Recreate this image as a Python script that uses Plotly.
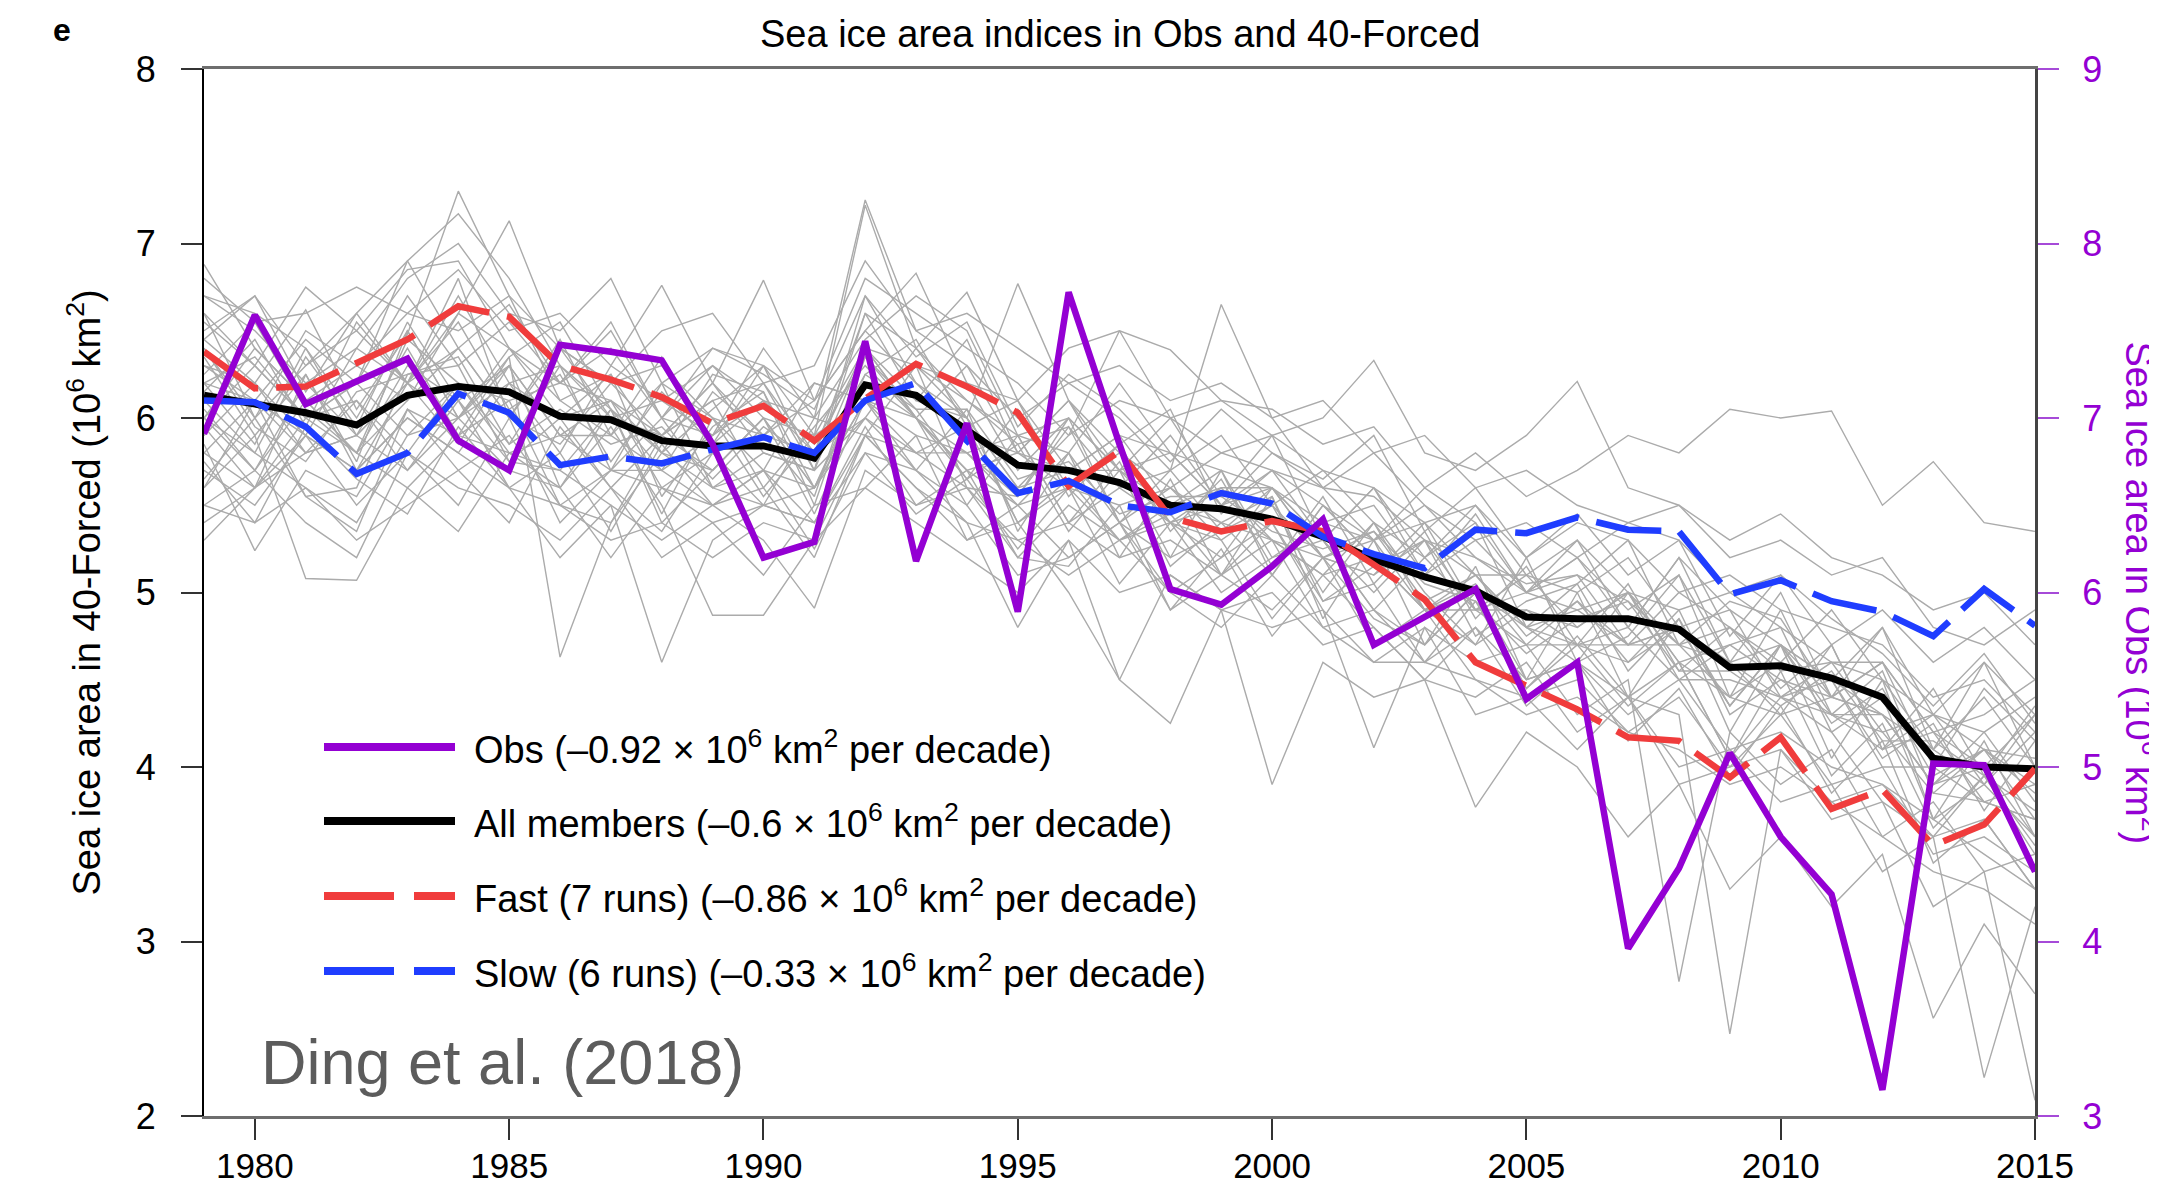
import plotly.graph_objects as go

years = list(range(1979, 2016))

all_members = [6.13, 6.08, 6.03, 5.96, 6.13, 6.18, 6.15, 6.01, 5.99, 5.87, 5.84, 5.84, 5.77, 6.19, 6.13, 5.93,
               5.73, 5.70, 5.63, 5.50, 5.48, 5.42, 5.32, 5.19, 5.09, 5.01, 4.86, 4.85, 4.85, 4.79, 4.57, 4.58,
               4.51, 4.40, 4.05, 4.00, 3.99]
fast = [6.38, 6.17, 6.18, 6.32, 6.45, 6.64, 6.58, 6.30, 6.22, 6.12, 5.97, 6.07, 5.87, 6.11, 6.31, 6.18,
        6.03, 5.61, 5.81, 5.43, 5.35, 5.41, 5.35, 5.16, 4.96, 4.60, 4.46, 4.33, 4.17, 4.15, 3.94, 4.17,
        3.76, 3.87, 3.55, 3.67, 3.99]
slow = [6.10, 6.09, 5.95, 5.68, 5.80, 6.14, 6.03, 5.73, 5.78, 5.74, 5.82, 5.89, 5.80, 6.10, 6.20, 5.87,
        5.57, 5.64, 5.50, 5.46, 5.57, 5.51, 5.32, 5.22, 5.14, 5.36, 5.34, 5.43, 5.36, 5.35, 4.99, 5.07,
        4.95, 4.89, 4.75, 5.02, 4.81]
obs = [6.91, 7.59, 7.08, 7.21, 7.34, 6.87, 6.70, 7.42, 7.38, 7.33, 6.85, 6.20, 6.29, 7.44, 6.18, 6.97,
       5.89, 7.72, 6.85, 6.02, 5.93, 6.15, 6.42, 5.70, 5.86, 6.02, 5.39, 5.60, 3.96, 4.42, 5.08, 4.60,
       4.27, 3.15, 5.02, 5.01, 4.40]

m01 = [6.45, 6.20, 6.62, 6.05, 6.48, 7.30, 6.70, 6.10, 6.25, 5.80, 6.05, 6.30, 5.90, 7.22, 6.40, 6.10, 5.85, 5.95, 5.60, 5.70, 6.65, 6.00, 5.60, 5.55, 5.30, 5.20, 5.05, 5.10, 4.95, 4.70, 4.80, 4.55, 4.60, 4.20, 4.30, 4.10, 4.05]
m02 = [5.85, 5.24, 5.70, 5.55, 6.05, 5.90, 6.35, 4.63, 5.40, 5.90, 6.10, 5.60, 5.95, 6.30, 6.00, 5.50, 5.90, 5.40, 5.75, 5.20, 5.35, 5.50, 5.00, 5.40, 4.90, 5.05, 4.70, 4.95, 4.60, 4.80, 4.35, 4.70, 4.30, 4.55, 3.85, 4.10, 3.70]
m03 = [6.88, 6.40, 6.10, 6.30, 6.60, 6.85, 6.50, 6.60, 6.30, 6.76, 6.20, 6.79, 6.10, 6.50, 6.83, 6.20, 6.10, 6.40, 6.50, 6.39, 6.10, 5.90, 6.00, 6.33, 5.80, 5.70, 5.90, 6.21, 5.60, 5.50, 5.30, 5.45, 5.20, 5.10, 4.90, 5.00, 4.70]
m04 = [6.20, 6.35, 6.00, 5.80, 6.10, 6.40, 6.00, 5.85, 6.20, 5.90, 5.70, 6.00, 5.60, 6.10, 6.30, 6.00, 5.60, 5.90, 6.50, 6.00, 6.10, 6.05, 5.85, 5.95, 5.60, 5.80, 5.55, 5.70, 5.90, 5.80, 6.05, 6.00, 6.04, 5.50, 5.75, 5.40, 5.35]
m05 = [5.60, 5.90, 5.08, 5.07, 5.60, 5.35, 5.80, 5.70, 5.50, 4.60, 5.30, 5.50, 5.40, 5.80, 5.70, 5.40, 4.80, 5.30, 4.50, 4.25, 4.90, 3.90, 4.60, 4.40, 4.50, 3.77, 4.20, 4.00, 3.60, 3.90, 3.30, 3.60, 3.20, 3.50, 2.56, 3.10, 2.70]
m06 = [6.30, 6.10, 6.45, 6.20, 6.90, 7.17, 6.80, 6.30, 6.00, 6.10, 5.90, 6.20, 5.80, 6.60, 6.40, 6.72, 6.10, 5.70, 5.90, 5.80, 5.50, 5.60, 5.20, 5.10, 5.40, 4.90, 5.10, 4.80, 5.00, 4.70, 4.40, 4.60, 4.50, 4.30, 3.90, 4.20, 3.80]
m07 = [6.00, 5.80, 5.60, 5.40, 5.90, 6.00, 5.70, 5.60, 5.95, 5.50, 4.87, 4.87, 5.30, 5.90, 5.60, 5.30, 5.50, 5.20, 5.40, 5.00, 5.20, 5.40, 4.90, 4.11, 4.80, 4.60, 4.70, 4.30, 4.50, 2.77, 4.20, 3.90, 4.10, 3.60, 3.80, 3.40, 3.50]
m08 = [6.50, 6.70, 6.30, 6.50, 6.20, 6.60, 7.13, 6.40, 6.20, 6.30, 6.00, 5.90, 6.10, 6.50, 6.20, 6.00, 6.77, 6.10, 5.80, 5.60, 5.80, 5.70, 5.50, 5.30, 5.60, 5.40, 5.00, 5.20, 4.90, 5.10, 4.60, 4.70, 4.40, 4.60, 4.20, 4.00, 4.30]
m09 = [5.30, 5.60, 5.90, 5.50, 5.80, 5.50, 6.00, 5.40, 5.70, 5.60, 5.50, 5.30, 4.91, 5.70, 5.50, 5.60, 5.20, 5.50, 5.30, 5.40, 5.00, 5.20, 5.30, 4.90, 4.60, 4.80, 4.50, 4.60, 4.40, 4.30, 2.47, 4.10, 3.80, 3.90, 3.60, 3.70, 3.30]
m10 = [6.60, 6.30, 6.75, 6.50, 6.85, 6.90, 6.40, 6.20, 6.50, 6.00, 6.30, 6.10, 6.00, 7.25, 6.50, 6.30, 6.00, 6.20, 6.00, 5.70, 5.90, 5.50, 5.70, 5.40, 5.20, 5.50, 5.10, 5.00, 5.20, 4.80, 4.90, 4.40, 4.60, 4.50, 4.10, 4.40, 4.00]
m11 = [6.10, 5.80, 6.35, 5.95, 6.55, 6.10, 5.75, 6.00, 6.25, 5.55, 5.95, 6.15, 5.50, 6.35, 6.05, 5.65, 5.85, 5.35, 5.70, 5.15, 5.40, 5.55, 4.95, 5.15, 5.30, 4.75, 4.95, 5.05, 4.55, 4.85, 4.35, 4.70, 4.50, 4.05, 4.25, 3.75, 4.15]
m12 = [5.90, 6.20, 5.80, 6.10, 5.70, 6.00, 6.40, 6.00, 5.60, 5.90, 6.20, 5.80, 5.70, 6.40, 6.00, 5.70, 5.50, 5.80, 5.40, 5.60, 5.40, 5.10, 5.50, 5.20, 4.90, 5.10, 4.80, 4.60, 5.00, 4.50, 4.70, 4.80, 4.20, 4.40, 3.70, 3.90, 3.60]
m13 = [6.70, 6.50, 6.20, 6.40, 6.80, 7.00, 6.60, 6.50, 6.80, 6.20, 6.40, 6.30, 6.10, 6.80, 6.60, 6.40, 6.20, 5.90, 6.10, 6.00, 5.80, 5.90, 5.70, 5.60, 5.40, 5.50, 5.20, 5.40, 5.30, 5.00, 5.10, 4.90, 4.80, 4.70, 4.40, 4.50, 4.20]
m14 = [5.50, 5.70, 5.40, 5.20, 5.80, 5.60, 5.50, 5.30, 5.60, 5.20, 5.40, 5.10, 5.50, 5.60, 5.90, 5.30, 5.40, 5.00, 4.50, 5.10, 4.90, 5.00, 4.70, 4.80, 4.50, 4.40, 4.60, 4.20, 4.40, 4.00, 4.10, 3.80, 3.90, 3.40, 3.60, 2.22, 3.20]
m15 = [6.20, 5.85, 6.40, 5.90, 6.20, 6.55, 6.05, 6.25, 5.75, 6.15, 5.85, 6.10, 5.85, 6.35, 6.00, 5.80, 5.55, 5.95, 5.40, 5.70, 5.35, 5.60, 5.20, 5.35, 4.95, 5.10, 4.75, 4.95, 4.70, 4.80, 4.35, 4.70, 4.25, 4.45, 3.95, 4.10, 3.85]
m16 = [6.00, 6.40, 6.10, 5.80, 6.30, 6.10, 6.30, 5.90, 6.10, 5.60, 5.80, 5.90, 5.80, 6.00, 6.40, 6.00, 5.40, 5.60, 5.80, 5.40, 5.60, 5.30, 5.10, 5.40, 5.00, 4.70, 4.90, 4.70, 4.60, 4.90, 4.30, 4.50, 4.30, 4.10, 4.20, 3.80, 3.90]
m17 = [6.40, 6.00, 6.50, 6.30, 6.10, 6.60, 6.40, 6.10, 5.90, 6.20, 6.00, 5.70, 6.20, 6.10, 6.30, 6.10, 5.90, 6.00, 5.70, 5.50, 5.70, 5.20, 5.40, 5.30, 5.50, 5.20, 5.00, 5.10, 4.70, 5.00, 4.80, 4.60, 4.90, 4.50, 4.30, 4.20, 4.40]
m18 = [5.70, 5.50, 5.90, 5.70, 6.00, 5.80, 5.60, 5.50, 5.40, 5.80, 5.60, 5.70, 5.40, 5.90, 5.80, 5.60, 5.30, 5.40, 5.20, 5.30, 5.10, 4.90, 5.20, 4.70, 4.90, 4.50, 4.40, 4.50, 4.20, 4.40, 4.00, 4.30, 3.90, 4.00, 3.50, 3.60, 3.40]
m19 = [6.30, 6.20, 5.90, 6.40, 6.20, 6.70, 6.20, 6.00, 6.10, 5.90, 6.10, 6.20, 5.70, 6.70, 6.20, 5.90, 5.80, 5.70, 5.90, 5.50, 5.60, 5.60, 5.30, 5.00, 5.30, 5.10, 4.80, 4.90, 5.00, 4.60, 4.70, 4.50, 4.40, 4.30, 3.90, 4.10, 3.90]
m20 = [5.80, 6.10, 5.55, 5.60, 6.25, 6.30, 5.75, 5.70, 6.05, 5.40, 5.70, 6.00, 5.45, 6.10, 5.80, 5.95, 5.40, 5.65, 5.30, 5.45, 5.10, 5.40, 4.95, 5.05, 4.60, 4.95, 4.45, 4.70, 4.35, 4.60, 4.05, 4.55, 3.95, 4.25, 3.65, 3.95, 3.55]
m21 = [6.55, 6.30, 6.00, 6.20, 6.70, 6.30, 6.55, 6.20, 6.40, 6.00, 5.90, 6.40, 6.00, 6.45, 6.70, 6.50, 5.90, 5.80, 6.20, 5.80, 5.50, 5.80, 5.60, 5.80, 5.50, 5.30, 5.40, 5.20, 5.40, 5.30, 5.00, 5.10, 4.70, 4.90, 4.60, 4.80, 4.50]
m22 = [6.00, 5.70, 6.10, 5.80, 5.60, 5.90, 5.80, 5.60, 5.20, 5.60, 5.40, 5.50, 5.60, 6.00, 5.70, 5.50, 5.10, 5.20, 5.40, 4.90, 5.10, 5.30, 4.80, 4.90, 4.70, 5.00, 4.50, 4.60, 4.30, 4.50, 4.10, 4.20, 4.00, 3.90, 3.70, 3.50, 3.30]
m23 = [6.25, 6.55, 6.05, 5.80, 6.45, 6.20, 5.85, 6.30, 6.05, 5.70, 6.15, 5.90, 5.55, 6.40, 6.00, 5.65, 6.05, 5.60, 5.85, 5.35, 5.65, 5.15, 5.55, 5.05, 5.35, 4.85, 5.15, 4.70, 5.05, 4.55, 4.80, 4.45, 4.70, 4.10, 4.45, 3.95, 4.35]
m24 = [5.95, 5.60, 6.25, 5.70, 6.20, 5.85, 6.30, 5.60, 6.05, 5.45, 6.00, 5.55, 5.90, 6.10, 5.70, 6.05, 5.35, 5.80, 5.20, 5.65, 5.10, 5.55, 4.85, 5.30, 4.70, 5.15, 4.50, 5.00, 4.40, 4.85, 4.20, 4.70, 4.05, 4.50, 3.70, 4.15, 3.60]
m25 = [6.40, 5.95, 5.75, 6.15, 6.25, 6.35, 5.85, 6.05, 5.85, 5.95, 5.65, 5.95, 5.75, 6.25, 6.05, 6.05, 5.65, 5.75, 5.45, 5.55, 5.55, 5.35, 5.25, 5.35, 5.05, 4.95, 4.65, 4.85, 4.95, 4.55, 4.55, 4.35, 4.55, 4.15, 4.15, 3.95, 3.75]
m26 = [5.60, 6.10, 5.90, 5.70, 6.00, 5.80, 6.20, 6.30, 5.70, 6.00, 5.60, 5.80, 5.70, 6.00, 5.80, 5.80, 5.90, 5.40, 5.60, 5.40, 5.20, 5.60, 5.30, 4.90, 5.20, 4.90, 4.90, 4.80, 5.00, 4.60, 4.40, 4.90, 4.30, 4.30, 4.10, 3.90, 4.20]
m27 = [6.70, 6.60, 6.40, 6.00, 6.50, 6.00, 6.20, 5.80, 6.30, 6.10, 6.30, 6.00, 5.90, 6.40, 6.30, 6.20, 5.70, 6.00, 5.70, 5.80, 5.70, 5.60, 5.40, 5.50, 5.10, 5.30, 5.00, 5.20, 4.80, 5.20, 4.90, 4.70, 4.50, 4.80, 4.30, 4.60, 4.30]
m28 = [5.40, 5.60, 5.80, 5.90, 5.70, 6.10, 5.60, 5.20, 5.50, 5.30, 5.50, 5.60, 5.20, 5.90, 5.60, 5.40, 5.30, 5.10, 5.30, 5.00, 4.80, 5.10, 4.80, 4.60, 4.80, 4.30, 4.40, 4.10, 4.40, 3.90, 4.00, 4.10, 3.70, 3.80, 3.20, 3.40, 2.09]
m29 = [6.15, 6.45, 5.95, 6.55, 6.20, 6.80, 6.00, 6.45, 5.90, 6.35, 5.85, 6.30, 5.70, 6.60, 6.10, 6.45, 5.80, 6.10, 5.70, 6.00, 5.55, 5.90, 5.30, 5.60, 5.10, 5.45, 5.00, 5.30, 4.80, 5.20, 4.60, 5.00, 4.40, 4.80, 4.10, 4.60, 4.00]
m30 = [6.05, 5.70, 6.20, 5.90, 6.40, 5.90, 6.10, 5.50, 5.70, 6.20, 5.60, 5.50, 6.00, 5.90, 6.30, 5.60, 5.55, 6.00, 5.40, 5.20, 5.70, 5.10, 5.50, 5.20, 4.90, 4.70, 5.20, 4.60, 4.75, 5.10, 4.40, 4.30, 4.70, 4.10, 4.30, 3.90, 4.30]
m31 = [6.35, 5.90, 6.25, 5.75, 6.50, 6.00, 6.35, 6.55, 6.05, 5.80, 6.25, 6.15, 5.60, 6.25, 6.45, 5.95, 6.10, 5.55, 5.85, 6.05, 5.45, 5.70, 5.30, 5.60, 5.20, 5.40, 4.80, 5.05, 5.30, 4.70, 4.95, 4.85, 4.40, 4.60, 4.00, 4.45, 4.15]
m32 = [5.75, 5.40, 5.95, 5.65, 5.45, 5.95, 5.60, 5.80, 5.35, 5.85, 5.50, 5.70, 5.25, 5.80, 5.45, 5.65, 5.25, 5.60, 5.05, 5.40, 5.30, 4.85, 5.20, 4.85, 4.70, 5.00, 4.45, 4.75, 4.40, 4.60, 4.05, 4.40, 4.20, 3.80, 3.60, 3.95, 3.50]
m33 = [6.60, 6.00, 6.30, 6.60, 6.20, 6.40, 6.00, 6.40, 6.00, 5.90, 6.20, 5.90, 6.20, 6.10, 6.00, 6.30, 5.80, 6.10, 5.60, 5.90, 5.50, 5.70, 5.60, 5.30, 5.40, 5.10, 5.10, 5.30, 5.00, 4.90, 5.00, 4.80, 4.60, 4.60, 4.20, 4.30, 4.50]
m34 = [5.50, 5.40, 5.60, 5.30, 5.50, 5.70, 5.90, 5.50, 5.30, 5.40, 5.20, 5.40, 5.30, 5.60, 5.40, 5.20, 5.00, 5.30, 5.00, 5.10, 4.90, 4.80, 4.90, 4.60, 4.60, 4.50, 4.30, 4.40, 4.20, 4.10, 3.90, 4.00, 3.80, 3.60, 3.40, 3.30, 3.10]
m35 = [6.80, 6.55, 6.60, 6.75, 6.60, 6.50, 6.70, 6.40, 6.20, 6.50, 6.60, 6.20, 6.30, 6.90, 6.50, 6.60, 6.40, 6.20, 6.30, 6.10, 6.20, 6.00, 6.10, 5.80, 5.90, 5.60, 5.70, 5.50, 5.40, 5.50, 5.20, 5.30, 5.10, 5.20, 4.80, 4.70, 4.90]
m36 = [6.00, 6.30, 6.00, 6.20, 5.90, 6.20, 6.10, 6.20, 6.10, 5.80, 5.70, 6.00, 5.60, 6.20, 6.00, 5.70, 5.80, 5.60, 5.50, 5.60, 5.30, 5.50, 5.20, 5.30, 4.90, 5.00, 4.80, 4.70, 4.70, 4.80, 4.60, 4.30, 4.40, 4.30, 3.90, 4.00, 3.60]
m37 = [6.20, 6.10, 5.80, 5.90, 6.20, 6.00, 6.30, 5.90, 5.90, 5.70, 5.90, 6.10, 5.80, 6.40, 6.10, 6.00, 5.60, 5.70, 5.70, 5.40, 5.50, 5.30, 5.20, 5.10, 5.30, 4.90, 5.00, 4.90, 4.70, 4.70, 4.60, 4.40, 4.50, 4.00, 4.00, 3.80, 3.70]
m38 = [5.65, 6.00, 5.55, 5.35, 6.05, 5.70, 5.40, 5.95, 5.60, 5.35, 5.80, 5.50, 5.40, 5.95, 5.50, 5.70, 5.20, 5.15, 5.50, 4.90, 5.25, 4.75, 5.10, 4.80, 4.50, 4.80, 4.35, 4.60, 4.15, 4.45, 3.95, 4.35, 3.85, 4.15, 3.45, 3.70, 3.30]
m39 = [6.45, 6.70, 6.15, 6.60, 6.90, 6.40, 6.65, 6.20, 6.55, 6.00, 6.40, 6.25, 6.05, 6.70, 6.35, 6.55, 5.95, 6.25, 6.05, 5.75, 6.05, 5.80, 5.65, 5.90, 5.35, 5.60, 5.20, 5.45, 5.10, 5.30, 4.75, 5.10, 4.85, 4.65, 4.35, 4.65, 4.25]
m40 = [5.80, 5.60, 6.00, 6.10, 5.80, 6.20, 5.80, 5.90, 5.70, 5.70, 5.50, 5.70, 5.60, 6.10, 5.90, 5.80, 5.50, 5.60, 5.30, 5.50, 5.40, 5.30, 5.10, 5.20, 4.90, 4.90, 4.70, 4.70, 4.80, 4.50, 4.50, 4.40, 4.30, 4.20, 3.85, 3.80, 3.70]

members = [m01, m02, m03, m04, m05, m06, m07, m08, m09, m10, m11, m12, m13, m14, m15, m16, m17, m18, m19, m20,
           m21, m22, m23, m24, m25, m26, m27, m28, m29, m30, m31, m32, m33, m34, m35, m36, m37, m38, m39, m40]

x_ticks = [1980, 1985, 1990, 1995, 2000, 2005, 2010, 2015]
left_ticks = [2, 3, 4, 5, 6, 7, 8]
right_ticks = [3, 4, 5, 6, 7, 8, 9]

legend_labels = [
    "Obs (–0.92 × 10<sup>6</sup> km<sup>2</sup> per decade)",
    "All members (–0.6 × 10<sup>6</sup> km<sup>2</sup> per decade)",
    "Fast (7 runs) (–0.86 × 10<sup>6</sup> km<sup>2</sup> per decade)",
    "Slow (6 runs) (–0.33 × 10<sup>6</sup> km<sup>2</sup> per decade)",
]

PURPLE = "#9400D3"
RED = "#F03C3C"
BLUE = "#1F3DFF"
GRAY = "#ABABAB"
FONT = "Liberation Sans, Arial, sans-serif"

fig = go.Figure()
for m in members:
    fig.add_trace(go.Scatter(x=years, y=m, mode="lines", line=dict(color=GRAY, width=1.4),
                             showlegend=False, hoverinfo="skip"))
fig.add_trace(go.Scatter(x=years, y=all_members, mode="lines", line=dict(color="black", width=7),
                         showlegend=False))
fig.add_trace(go.Scatter(x=years, y=fast, mode="lines", line=dict(color=RED, width=6.5, dash="66px,18px"),
                         showlegend=False))
fig.add_trace(go.Scatter(x=years, y=slow, mode="lines", line=dict(color=BLUE, width=6.5, dash="66px,18px"),
                         showlegend=False))
fig.add_trace(go.Scatter(x=years, y=obs, mode="lines", line=dict(color=PURPLE, width=6.5),
                         yaxis="y2", showlegend=False))

# page body has an 8px margin; the figure is sized so the visible frame is 2157x1190
OFF = 8
W, H = 2157 - OFF, 1190 - OFF
PLOT_X0, PLOT_X1, PLOT_Y0, PLOT_Y1 = 204, 2035, 69, 1116   # screen pixels
L, T = PLOT_X0 - OFF, PLOT_Y0 - OFF
R, B = W - (PLOT_X1 - OFF), H - (PLOT_Y1 - OFF)
pw, ph = PLOT_X1 - PLOT_X0, PLOT_Y1 - PLOT_Y0

def px(sx):
    return (sx - PLOT_X0) / pw

def py(sy):
    return (PLOT_Y1 - sy) / ph

shapes = []
annotations = []
leg_rows = [747, 821, 896, 971]
leg_styles = [(PURPLE, "solid"), ("black", "solid"), (RED, "70px,20px"), (BLUE, "70px,20px")]
for (col, dash), yrow, lab in zip(leg_styles, leg_rows, legend_labels):
    shapes.append(dict(type="line", xref="paper", yref="paper", x0=px(324), x1=px(455),
                       y0=py(yrow), y1=py(yrow), line=dict(color=col, width=8, dash=dash)))
    annotations.append(dict(xref="paper", yref="paper", x=px(472), y=py(yrow), text=lab,
                            showarrow=False, xanchor="left", yanchor="middle",
                            font=dict(size=38, color="black", family=FONT)))

annotations += [
    dict(xref="paper", yref="paper", x=0.5, y=py(34), text="Sea ice area indices in Obs and 40-Forced",
         showarrow=False, xanchor="center", yanchor="middle", font=dict(size=38, color="black", family=FONT)),
    dict(xref="paper", yref="paper", x=px(62), y=py(30), text="<b>e</b>",
         showarrow=False, xanchor="center", yanchor="middle", font=dict(size=32, color="black", family=FONT)),
    dict(xref="paper", yref="paper", x=px(84), y=0.5,
         text="Sea ice area in 40-Forced (10<sup>6</sup> km<sup>2</sup>)", textangle=-90,
         showarrow=False, xanchor="center", yanchor="middle", font=dict(size=38, color="black", family=FONT)),
    dict(xref="paper", yref="paper", x=px(2142), y=0.5,
         text="Sea ice area in Obs (10<sup>6</sup> km<sup>2</sup>)", textangle=90,
         showarrow=False, xanchor="center", yanchor="middle", font=dict(size=38, color=PURPLE, family=FONT)),
    dict(xref="paper", yref="paper", x=px(259), y=py(1062), text="Ding et al. (2018)",
         showarrow=False, xanchor="left", yanchor="middle", font=dict(size=63, color="#5c5c5c", family=FONT)),
]

fig.update_layout(
    width=W, height=H,
    margin=dict(l=L, r=R, t=T, b=B, pad=0, autoexpand=False),
    paper_bgcolor="white", plot_bgcolor="white",
    showlegend=False,
    font=dict(family=FONT, color="black"),
    shapes=shapes,
    annotations=annotations,
    xaxis=dict(range=[1979, 2015], tickvals=x_ticks, ticks="outside", ticklen=21, tickwidth=2,
               tickcolor="#333333", showline=True, linecolor="#6e6e6e", linewidth=3, mirror=True,
               showgrid=False, zeroline=False, tickfont=dict(size=35, color="black", family=FONT),
               ticklabelstandoff=-4, automargin=False),
    yaxis=dict(range=[2, 8], tickvals=left_ticks, ticks="outside", ticklen=21, tickwidth=2,
               tickcolor="#333333", showline=True, linecolor="black", linewidth=2,
               showgrid=False, zeroline=False, tickfont=dict(size=36, color="black", family=FONT),
               ticklabelstandoff=18, automargin=False),
    yaxis2=dict(range=[3, 9], tickvals=right_ticks, overlaying="y", side="right", ticks="outside",
                ticklen=21, tickwidth=2, tickcolor="#A64AD8", showline=True, linecolor="#444444",
                linewidth=3, showgrid=False, zeroline=False,
                tickfont=dict(size=36, color=PURPLE, family=FONT), ticklabelstandoff=16,
                automargin=False),
)

fig.write_html("out.html")
